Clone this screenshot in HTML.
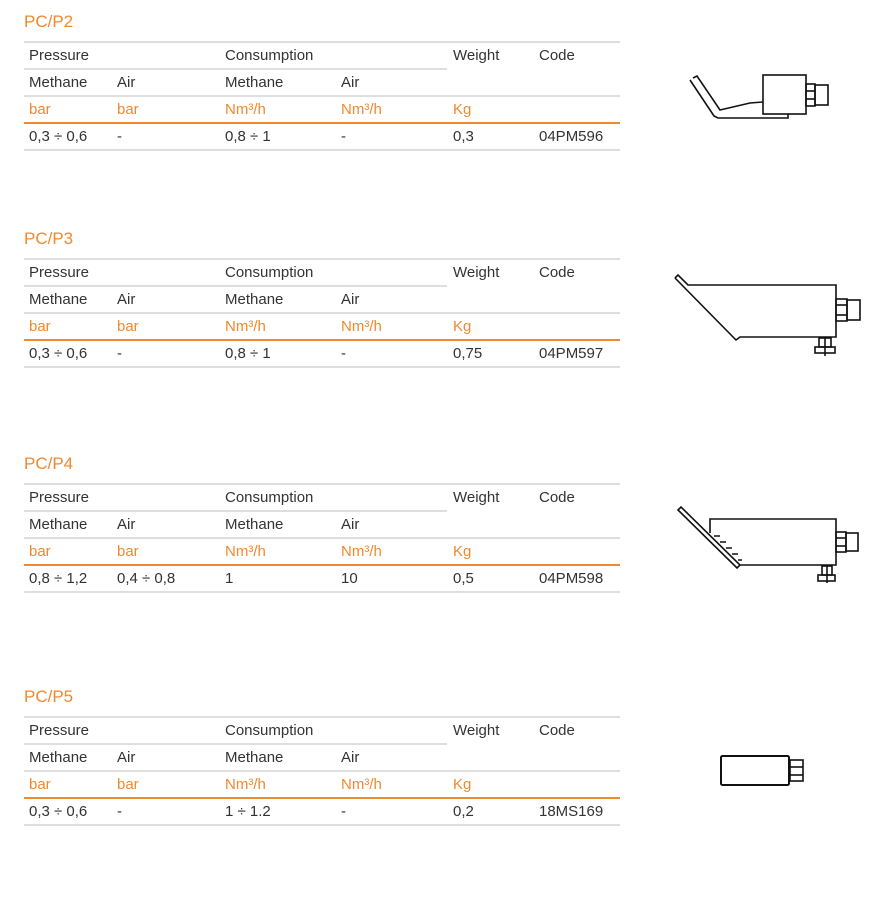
<!DOCTYPE html>
<html><head><meta charset="utf-8"><style>
body{margin:0;width:871px;height:846px;background:#fff;position:relative;font-family:"Liberation Sans",sans-serif;overflow:hidden}
.s{position:absolute;left:0;top:0;width:871px;height:200px}
.t{position:absolute;left:24px;color:#f0892f;font-size:17px;top:-29px}
.l{position:absolute;left:24px;height:2px;background:#dedede}
.o{background:#f08a30}
.c{position:absolute;font-size:15px;color:#333;line-height:27px;white-space:nowrap}
.u{color:#f0892f}
</style></head><body>

<div class="s" style="top:41px">
<div class="t">PC/P2</div>
<div class="l" style="top:0;width:596px"></div>
<div class="l" style="top:27px;width:423px"></div>
<div class="l" style="top:54px;width:596px"></div>
<div class="l o" style="top:81px;width:596px"></div>
<div class="l" style="top:108px;width:596px"></div>
<div class="c" style="left:29px;top:1px">Pressure</div><div class="c" style="left:225px;top:1px">Consumption</div><div class="c" style="left:453px;top:1px">Weight</div><div class="c" style="left:539px;top:1px">Code</div>
<div class="c" style="left:29px;top:28px">Methane</div><div class="c" style="left:117px;top:28px">Air</div><div class="c" style="left:225px;top:28px">Methane</div><div class="c" style="left:341px;top:28px">Air</div>
<div class="c u" style="left:29px;top:55px">bar</div><div class="c u" style="left:117px;top:55px">bar</div><div class="c u" style="left:225px;top:55px">Nm³/h</div><div class="c u" style="left:341px;top:55px">Nm³/h</div><div class="c u" style="left:453px;top:55px">Kg</div>
<div class="c" style="left:29px;top:82px">0,3 ÷ 0,6</div><div class="c" style="left:117px;top:82px">-</div><div class="c" style="left:225px;top:82px">0,8 ÷ 1</div><div class="c" style="left:341px;top:82px">-</div><div class="c" style="left:453px;top:82px">0,3</div><div class="c" style="left:539px;top:82px">04PM596</div>
</div>

<div class="s" style="top:258px">
<div class="t">PC/P3</div>
<div class="l" style="top:0;width:596px"></div>
<div class="l" style="top:27px;width:423px"></div>
<div class="l" style="top:54px;width:596px"></div>
<div class="l o" style="top:81px;width:596px"></div>
<div class="l" style="top:108px;width:596px"></div>
<div class="c" style="left:29px;top:1px">Pressure</div><div class="c" style="left:225px;top:1px">Consumption</div><div class="c" style="left:453px;top:1px">Weight</div><div class="c" style="left:539px;top:1px">Code</div>
<div class="c" style="left:29px;top:28px">Methane</div><div class="c" style="left:117px;top:28px">Air</div><div class="c" style="left:225px;top:28px">Methane</div><div class="c" style="left:341px;top:28px">Air</div>
<div class="c u" style="left:29px;top:55px">bar</div><div class="c u" style="left:117px;top:55px">bar</div><div class="c u" style="left:225px;top:55px">Nm³/h</div><div class="c u" style="left:341px;top:55px">Nm³/h</div><div class="c u" style="left:453px;top:55px">Kg</div>
<div class="c" style="left:29px;top:82px">0,3 ÷ 0,6</div><div class="c" style="left:117px;top:82px">-</div><div class="c" style="left:225px;top:82px">0,8 ÷ 1</div><div class="c" style="left:341px;top:82px">-</div><div class="c" style="left:453px;top:82px">0,75</div><div class="c" style="left:539px;top:82px">04PM597</div>
</div>

<div class="s" style="top:483px">
<div class="t">PC/P4</div>
<div class="l" style="top:0;width:596px"></div>
<div class="l" style="top:27px;width:423px"></div>
<div class="l" style="top:54px;width:596px"></div>
<div class="l o" style="top:81px;width:596px"></div>
<div class="l" style="top:108px;width:596px"></div>
<div class="c" style="left:29px;top:1px">Pressure</div><div class="c" style="left:225px;top:1px">Consumption</div><div class="c" style="left:453px;top:1px">Weight</div><div class="c" style="left:539px;top:1px">Code</div>
<div class="c" style="left:29px;top:28px">Methane</div><div class="c" style="left:117px;top:28px">Air</div><div class="c" style="left:225px;top:28px">Methane</div><div class="c" style="left:341px;top:28px">Air</div>
<div class="c u" style="left:29px;top:55px">bar</div><div class="c u" style="left:117px;top:55px">bar</div><div class="c u" style="left:225px;top:55px">Nm³/h</div><div class="c u" style="left:341px;top:55px">Nm³/h</div><div class="c u" style="left:453px;top:55px">Kg</div>
<div class="c" style="left:29px;top:82px">0,8 ÷ 1,2</div><div class="c" style="left:117px;top:82px">0,4 ÷ 0,8</div><div class="c" style="left:225px;top:82px">1</div><div class="c" style="left:341px;top:82px">10</div><div class="c" style="left:453px;top:82px">0,5</div><div class="c" style="left:539px;top:82px">04PM598</div>
</div>

<div class="s" style="top:716px">
<div class="t">PC/P5</div>
<div class="l" style="top:0;width:596px"></div>
<div class="l" style="top:27px;width:423px"></div>
<div class="l" style="top:54px;width:596px"></div>
<div class="l o" style="top:81px;width:596px"></div>
<div class="l" style="top:108px;width:596px"></div>
<div class="c" style="left:29px;top:1px">Pressure</div><div class="c" style="left:225px;top:1px">Consumption</div><div class="c" style="left:453px;top:1px">Weight</div><div class="c" style="left:539px;top:1px">Code</div>
<div class="c" style="left:29px;top:28px">Methane</div><div class="c" style="left:117px;top:28px">Air</div><div class="c" style="left:225px;top:28px">Methane</div><div class="c" style="left:341px;top:28px">Air</div>
<div class="c u" style="left:29px;top:55px">bar</div><div class="c u" style="left:117px;top:55px">bar</div><div class="c u" style="left:225px;top:55px">Nm³/h</div><div class="c u" style="left:341px;top:55px">Nm³/h</div><div class="c u" style="left:453px;top:55px">Kg</div>
<div class="c" style="left:29px;top:82px">0,3 ÷ 0,6</div><div class="c" style="left:117px;top:82px">-</div><div class="c" style="left:225px;top:82px">1 ÷ 1.2</div><div class="c" style="left:341px;top:82px">-</div><div class="c" style="left:453px;top:82px">0,2</div><div class="c" style="left:539px;top:82px">18MS169</div>
</div>

<svg width="871" height="846" style="position:absolute;left:0;top:0" fill="none" stroke="#111" stroke-width="1.6">
<path d="M693,78 L697,76 L720,110 L750,103 L763,102 M690,80 L714,116 L718,118 L788,118 L788,114"/>
<rect x="763" y="75" width="43" height="39"/>
<rect x="806" y="84" width="9" height="22"/>
<rect x="815" y="85" width="13" height="20"/>
<line x1="806" y1="91" x2="815" y2="91"/><line x1="806" y1="99" x2="815" y2="99"/>
<path d="M675,278 L678,275 L688,285 L836,285 L836,337 L740,337 L736,340 L675,278"/>
<rect x="836" y="299" width="11" height="22"/>
<rect x="847" y="300" width="13" height="20"/>
<line x1="836" y1="305" x2="847" y2="305"/><line x1="836" y1="315" x2="847" y2="315"/>
<rect x="819" y="338" width="12" height="9"/><rect x="815" y="347" width="20" height="6"/>
<line x1="825" y1="338" x2="825" y2="356"/>
<path d="M678,510 L681,507 L740,565 L737,568 Z"/>
<path d="M710,533 L710,519 L836,519 L836,565 L740,565"/>
<path d="M714,536 l6,0 M720,542 l6,0 M726,548 l6,0 M732,554 l6,0 M738,560 l4,0" />
<rect x="836" y="532" width="10" height="20"/>
<rect x="846" y="533" width="12" height="18"/>
<line x1="836" y1="538" x2="846" y2="538"/><line x1="836" y1="546" x2="846" y2="546"/>
<rect x="822" y="566" width="10" height="9"/><rect x="818" y="575" width="17" height="6"/>
<line x1="827" y1="566" x2="827" y2="583"/>
<rect x="721" y="756" width="68" height="29" rx="1.5" stroke-width="2"/>
<rect x="790" y="760" width="13" height="21"/>
<line x1="790" y1="767" x2="803" y2="767"/><line x1="790" y1="775" x2="803" y2="775"/>
</svg>
</body></html>
